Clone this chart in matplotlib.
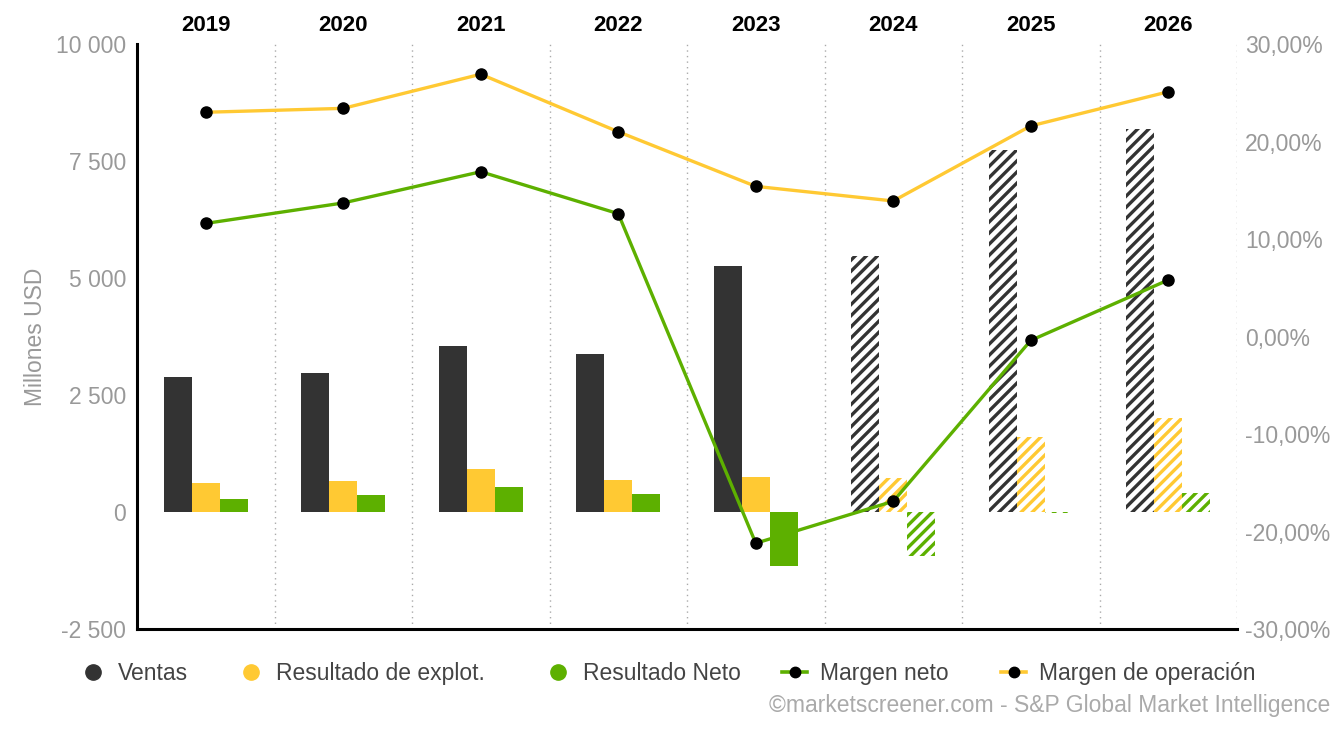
import numpy as np
import matplotlib
matplotlib.use("Agg")
import matplotlib.pyplot as plt
import matplotlib.ticker as ticker
from matplotlib.lines import Line2D

plt.rcParams['font.family'] = ['Liberation Sans', 'DejaVu Sans']
plt.rcParams['hatch.linewidth'] = 2.4

years = ['2019', '2020', '2021', '2022', '2023', '2024', '2025', '2026']
ventas = [2890, 2977, 3540, 3376, 5256, 5470, 7735, 8184]
res_explot = [626, 669, 925, 684, 755, 719, 1610, 2002]
res_neto = [284, 370, 541, 385, -1154, -940, -25, 413]
margen_neto = [11.6, 13.7, 16.9, 12.6, -21.2, -16.9, -0.4, 5.8]
margen_op = [23.0, 23.4, 26.9, 21.0, 15.4, 13.9, 21.6, 25.1]
first_forecast = 5  # 2024 on are estimates (hatched)

c_dark = '#333333'
c_yel = '#FFC933'
c_grn = '#5DB000'
c_gray = '#999999'
fs = 16.5

fig = plt.figure(figsize=(13.34, 7.31), dpi=100)
ax = fig.add_axes([0.1027, 0.1395, 0.8246, 0.8003])
ax2 = ax.twinx()

x = np.arange(len(years))
w = 0.204
for series, off, col in [(ventas, -w, c_dark), (res_explot, 0, c_yel), (res_neto, w, c_grn)]:
    for i, v in enumerate(series):
        if i < first_forecast:
            ax.bar(x[i] + off, v, w, color=col, linewidth=0)
        else:
            ax.bar(x[i] + off, v, w, facecolor='white', edgecolor=col, hatch='///', linewidth=0)

ax.set_xlim(-0.5, 7.5)
ax.set_ylim(-2500, 10000)
ax.set_yticks(np.arange(-2500, 10001, 2500))
ax.yaxis.set_major_formatter(ticker.FuncFormatter(lambda v, p: f"{int(v):,}".replace(',', ' ')))
ax.set_xticks(x)
ax.set_xticklabels(years, fontweight='bold', fontsize=16)
ax.xaxis.tick_top()
ax.tick_params(axis='x', length=0, pad=6, colors='black')
ax.tick_params(axis='y', length=0, labelsize=fs, labelcolor=c_gray, pad=8)
ax.set_ylabel('Millones USD', color=c_gray, fontsize=fs, labelpad=6)

for b in np.arange(0.5, 7.6, 1):
    ax.axvline(b, color='#aaaaaa', linestyle=(0, (1, 3)), linewidth=1, zorder=0)

for s in ['top', 'right']:
    ax.spines[s].set_visible(False)
    ax2.spines[s].set_visible(False)
ax2.spines['left'].set_visible(False)
ax2.spines['bottom'].set_visible(False)
ax.spines['left'].set_linewidth(2.2)
ax.spines['bottom'].set_linewidth(2.2)

ax2.plot(x, margen_op, color=c_yel, linewidth=2.4, marker='o', markersize=8,
         markerfacecolor='black', markeredgecolor='black')
ax2.plot(x, margen_neto, color=c_grn, linewidth=2.4, marker='o', markersize=8,
         markerfacecolor='black', markeredgecolor='black')
ax2.set_ylim(-30, 30)
ax2.set_yticks(np.arange(-30, 31, 10))
ax2.yaxis.set_major_formatter(ticker.FuncFormatter(lambda v, p: f"{v:.2f}%".replace('.', ',')))
ax2.tick_params(axis='y', length=0, labelsize=fs, labelcolor=c_gray, pad=6)

# legend, one entry at a time so the spacing follows the reference
bar_cols = [c_dark, c_yel, c_grn]
line_cols = [c_grn, c_yel]
labels = ['Ventas', 'Resultado de explot.', 'Resultado Neto', 'Margen neto', 'Margen de operación']
starts = [80, 238, 545, 782, 1001]
handles = [Line2D([], [], linestyle='none', marker='o', markersize=11, markerfacecolor=c, markeredgecolor=c)
           for c in bar_cols]
handles += [Line2D([], [], color=c, linewidth=2.6, marker='o', markersize=7.5,
                   markerfacecolor='black', markeredgecolor='black') for c in line_cols]
for h, lab, sx in zip(handles, labels, starts):
    fig.legend([h], [lab], loc='center left', bbox_to_anchor=(sx / 1334, 0.079), frameon=False,
               fontsize=fs, labelcolor='#444444', handlelength=1.1, handletextpad=0.55,
               borderpad=0, borderaxespad=0)

fig.text(0.997, 0.019, '©marketscreener.com - S&P Global Market Intelligence', ha='right', va='bottom',
         fontsize=fs, color='#aaaaaa')

fig.savefig('out.png', dpi=100)
